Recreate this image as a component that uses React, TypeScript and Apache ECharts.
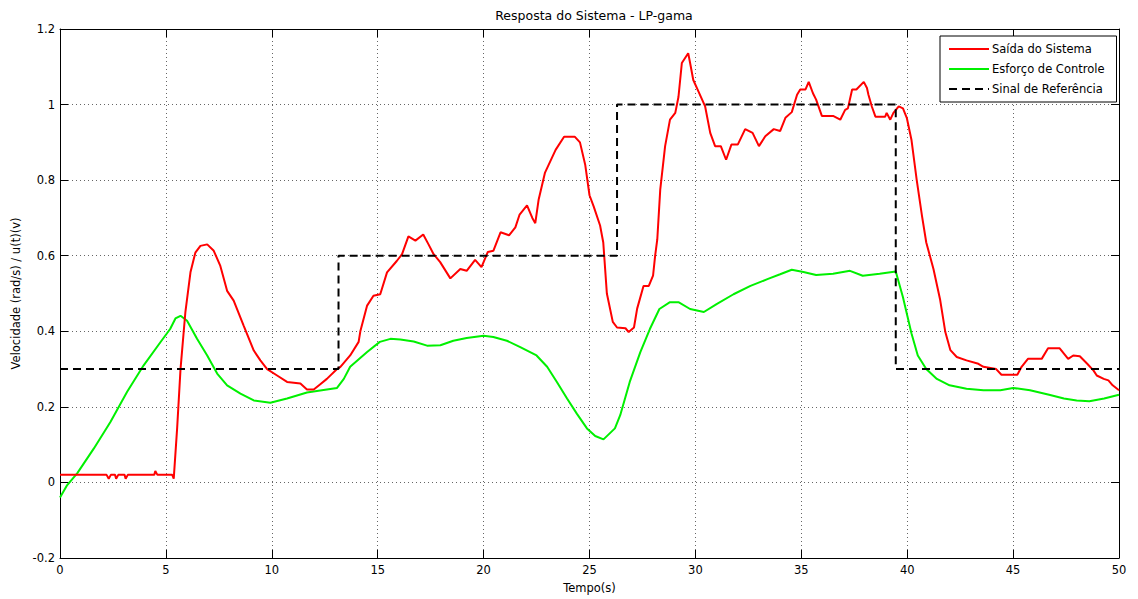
import React, { useEffect, useRef } from "react";
import * as echarts from "echarts";

const saida: [number, number][] = [
  [0, 0.02], [2.2, 0.02], [2.3, 0.01], [2.4, 0.02], [2.6, 0.02], [2.65, 0.01], [2.75, 0.02],
  [3.05, 0.02], [3.1, 0.01], [3.2, 0.02], [4.45, 0.02], [4.5, 0.03], [4.6, 0.02], [5.3, 0.02],
  [5.37, 0.01], [5.53, 0.143], [5.69, 0.3], [5.92, 0.451], [6.16, 0.556], [6.39, 0.608],
  [6.63, 0.626], [6.95, 0.63], [7.26, 0.613], [7.57, 0.573], [7.89, 0.507], [8.2, 0.481],
  [8.67, 0.415], [9.15, 0.349], [9.46, 0.323], [9.78, 0.3], [10.25, 0.283], [10.72, 0.266],
  [11.35, 0.262], [11.66, 0.246], [11.98, 0.246], [12.29, 0.26], [12.6, 0.274], [13.08, 0.3],
  [13.24, 0.306], [13.7, 0.336], [14.1, 0.372], [14.18, 0.4], [14.5, 0.468], [14.8, 0.494],
  [15.12, 0.498], [15.44, 0.556], [15.9, 0.586], [16.15, 0.604], [16.45, 0.651], [16.78, 0.64],
  [17.15, 0.656], [17.4, 0.63], [17.64, 0.604], [17.95, 0.583], [18.43, 0.54], [18.9, 0.565],
  [19.2, 0.56], [19.6, 0.589], [19.9, 0.57], [20.2, 0.61], [20.46, 0.613], [20.8, 0.662],
  [21.2, 0.654], [21.5, 0.675], [21.7, 0.709], [22.05, 0.733], [22.3, 0.7], [22.44, 0.686],
  [22.6, 0.749], [22.9, 0.82], [23.4, 0.88], [23.8, 0.915], [24.3, 0.915], [24.55, 0.9],
  [24.8, 0.84], [25.0, 0.76], [25.2, 0.73], [25.5, 0.68], [25.65, 0.635], [25.82, 0.5],
  [26.1, 0.425], [26.3, 0.41], [26.7, 0.408], [26.85, 0.398], [27.1, 0.41], [27.25, 0.46],
  [27.55, 0.52], [27.8, 0.52], [28.0, 0.547], [28.1, 0.6], [28.2, 0.643], [28.34, 0.775],
  [28.57, 0.89], [28.8, 0.96], [29.05, 0.978], [29.2, 1.02], [29.36, 1.11], [29.66, 1.136],
  [29.75, 1.11], [29.9, 1.065], [30.1, 1.04], [30.46, 0.995], [30.7, 0.925], [30.93, 0.89],
  [31.2, 0.89], [31.45, 0.854], [31.7, 0.894], [32.0, 0.894], [32.35, 0.935], [32.7, 0.925],
  [33.0, 0.89], [33.3, 0.916], [33.7, 0.935], [34.0, 0.93], [34.25, 0.965], [34.55, 0.98],
  [34.8, 1.026], [34.95, 1.04], [35.2, 1.04], [35.35, 1.06], [35.55, 1.03], [35.7, 1.013],
  [35.97, 0.97], [36.5, 0.97], [36.84, 0.96], [37.07, 0.986], [37.2, 0.99], [37.4, 1.04],
  [37.6, 1.04], [37.95, 1.06], [38.1, 1.044], [38.17, 1.026], [38.33, 0.995], [38.5, 0.968],
  [38.96, 0.968], [39.03, 0.978], [39.2, 0.96], [39.35, 0.978], [39.6, 0.995], [39.8, 0.99],
  [39.98, 0.965], [40.2, 0.907], [40.45, 0.8], [40.7, 0.705], [40.9, 0.635], [41.24, 0.565],
  [41.55, 0.485], [41.8, 0.398], [42.04, 0.35], [42.34, 0.332], [42.8, 0.323], [43.36, 0.314],
  [43.6, 0.306], [44.2, 0.3], [44.45, 0.285], [45.2, 0.285], [45.4, 0.306], [45.7, 0.327],
  [46.35, 0.327], [46.65, 0.355], [47.2, 0.355], [47.6, 0.327], [47.84, 0.336], [48.15, 0.334],
  [48.5, 0.314], [48.8, 0.296], [48.95, 0.283], [49.28, 0.274], [49.5, 0.27], [49.7, 0.257],
  [50, 0.244],
];

const esforco: [number, number][] = [
  [0, -0.04], [0.34, -0.007], [0.81, 0.024], [1.6, 0.09], [2.38, 0.16], [3.17, 0.24],
  [3.95, 0.31], [4.74, 0.371], [5.2, 0.406], [5.45, 0.434], [5.69, 0.441], [6.0, 0.428],
  [6.47, 0.38], [6.95, 0.336], [7.42, 0.288], [7.89, 0.257], [8.52, 0.235], [9.15, 0.217],
  [9.93, 0.211], [10.72, 0.222], [11.66, 0.238], [12.6, 0.246], [13.08, 0.25], [13.4, 0.274],
  [13.7, 0.306], [14.5, 0.345], [15.1, 0.372], [15.6, 0.38], [16.07, 0.378], [16.7, 0.373],
  [17.33, 0.362], [17.96, 0.363], [18.57, 0.375], [19.2, 0.382], [20.0, 0.388], [20.46, 0.385],
  [21.1, 0.375], [21.73, 0.358], [22.5, 0.336], [23.0, 0.306], [23.46, 0.266], [23.94, 0.222],
  [24.4, 0.182], [24.88, 0.143], [25.27, 0.123], [25.66, 0.114], [26.2, 0.143], [26.45, 0.178],
  [26.9, 0.266], [27.4, 0.345], [27.85, 0.406], [28.3, 0.459], [28.8, 0.477], [29.2, 0.477],
  [29.75, 0.459], [30.4, 0.451], [31.0, 0.472], [31.8, 0.498], [32.6, 0.52], [33.4, 0.538],
  [34.0, 0.551], [34.55, 0.563], [35.1, 0.557], [35.7, 0.549], [36.5, 0.552], [37.3, 0.56],
  [37.9, 0.547], [38.7, 0.552], [39.46, 0.558], [39.8, 0.49], [40.2, 0.395], [40.5, 0.336],
  [40.9, 0.3], [41.4, 0.274], [42.0, 0.257], [42.8, 0.248], [43.6, 0.244], [44.4, 0.244],
  [45.0, 0.25], [45.8, 0.244], [46.7, 0.232], [47.4, 0.222], [48.0, 0.217], [48.6, 0.215],
  [49.3, 0.222], [50, 0.232],
];

const referencia: [number, number][] = [
  [0, 0.3], [13.15, 0.3], [13.15, 0.6], [26.3, 0.6], [26.3, 1.0], [39.46, 1.0], [39.46, 0.3], [50, 0.3],
];

const seriesNames = ["Saída do Sistema", "Esforço de Controle", "Sinal de Referência"];
const titleText = "Resposta do Sistema - LP-gama";
const xName = "Tempo(s)";
const yName = "Velocidade (rad/s) / u(t)(v)";

const FONT = "'DejaVu Sans', 'Liberation Sans', Arial, sans-serif";

export default function App() {
  const ref = useRef<HTMLDivElement>(null);
  useEffect(() => {
    if (!ref.current) return;
    const chart = echarts.init(ref.current, undefined, { renderer: "svg" });
    const axisLine = { show: true, onZero: false, lineStyle: { color: "#000", width: 1 } };
    const tick = { show: true, inside: true, length: 8, lineStyle: { color: "#000" } };
    const split = { show: true, lineStyle: { color: "#666", type: [1, 3] as any, width: 1 } };
    const label = { color: "#000", fontFamily: FONT, fontSize: 11.5 };
    chart.setOption({
      animation: false,
      backgroundColor: "#fff",
      textStyle: { fontFamily: FONT },
      title: {
        text: titleText,
        left: 589,
        top: 4,
        textAlign: "center",
        textStyle: { fontSize: 12.5, fontWeight: "normal", color: "#000", fontFamily: FONT },
      },
      legend: {
        orient: "vertical",
        left: 940,
        top: 36,
        padding: [6, 12, 6, 8],
        itemGap: 6,
        itemWidth: 40,
        itemHeight: 14,
        borderColor: "#000",
        borderWidth: 1,
        backgroundColor: "#fff",
        itemStyle: { opacity: 0 },
        textStyle: {
          fontSize: 11.5,
          lineHeight: 14,
          height: 14,
          color: "#000",
          fontFamily: FONT,
          padding: [0, 0, 0, -2],
        },
        data: seriesNames,
      },
      grid: { left: 60, right: 19, top: 29, bottom: 39, containLabel: false },
      xAxis: [
        {
          type: "value",
          min: 0,
          max: 50,
          interval: 5,
          position: "bottom",
          axisLine,
          axisTick: tick,
          splitLine: split,
          axisLabel: { ...label, margin: 6 },
          name: xName,
          nameLocation: "middle",
          nameGap: 24,
          nameTextStyle: { fontSize: 11.5, color: "#000", fontFamily: FONT },
        },
        {
          type: "value",
          min: 0,
          max: 50,
          interval: 5,
          position: "top",
          axisLine,
          axisTick: tick,
          splitLine: { show: false },
          axisLabel: { show: false },
        },
      ],
      yAxis: [
        {
          type: "value",
          min: -0.2,
          max: 1.2,
          interval: 0.2,
          position: "left",
          axisLine,
          axisTick: tick,
          splitLine: split,
          axisLabel: { ...label, margin: 5, formatter: (v: number) => String(Math.round(v * 10) / 10) },
          name: yName,
          nameLocation: "middle",
          nameGap: 35,
          nameTextStyle: { fontSize: 11.5, color: "#000", fontFamily: FONT },
        },
        {
          type: "value",
          min: -0.2,
          max: 1.2,
          interval: 0.2,
          position: "right",
          axisLine,
          axisTick: tick,
          splitLine: { show: false },
          axisLabel: { show: false },
        },
      ],
      series: [
        {
          name: seriesNames[0],
          type: "line",
          data: saida,
          symbol: "none",
          lineStyle: { color: "#ff0000", width: 2 },
          itemStyle: { color: "#ff0000" },
          z: 3,
        },
        {
          name: seriesNames[1],
          type: "line",
          data: esforco,
          symbol: "none",
          lineStyle: { color: "#00f000", width: 2 },
          itemStyle: { color: "#00f000" },
          z: 2,
        },
        {
          name: seriesNames[2],
          type: "line",
          data: referencia,
          symbol: "none",
          lineStyle: { color: "#000", width: 2, type: [8, 5] as any },
          itemStyle: { color: "#000" },
          z: 4,
        },
      ],
    });
    return () => chart.dispose();
  }, []);
  return (
    <div
      ref={ref}
      style={{ position: "absolute", left: 0, top: 0, width: 1138, height: 599 }}
    />
  );
}
